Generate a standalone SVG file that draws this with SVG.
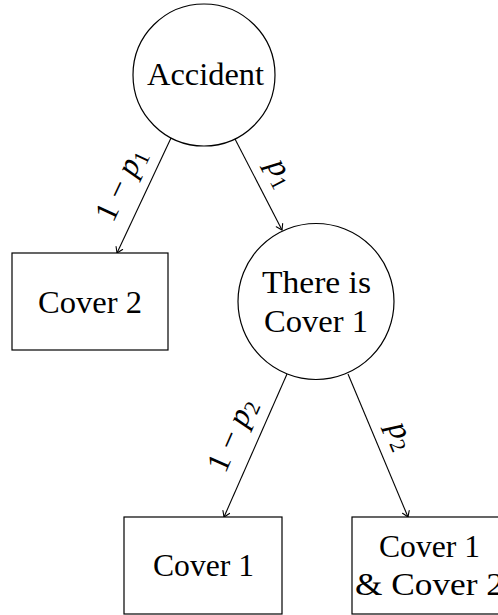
<svg xmlns="http://www.w3.org/2000/svg" width="498" height="615" viewBox="0 0 498 615">
  <style>
    .shape { fill: #ffffff; stroke: #000000; stroke-width: 1.2; }
    text { font-family: 'Liberation Serif', 'Times New Roman', 'DejaVu Serif', serif; font-size: 32px; fill: #000000; text-anchor: middle; }
    .edge { fill: none; stroke: #000000; stroke-width: 1.1; marker-end: url(#tip); }
    .it { font-style: italic; }
    .sub { font-size: 22px; }
  </style>
  <defs>
    <marker id="tip" markerUnits="userSpaceOnUse" viewBox="-7 -5 9 10" refX="0" refY="0" markerWidth="9" markerHeight="10" orient="auto" overflow="visible">
      <path d="M -5.5,-3.6 Q -1.5,-1 0,0 Q -1.5,1 -5.5,3.6" fill="none" stroke="#000000" stroke-width="1.1" stroke-linecap="round"/>
    </marker>
  </defs>
  <rect width="498" height="615" fill="#ffffff"/>

  <!-- connectors -->
  <g id="edges">
    <path class="edge" d="M 171,138 L 117,253"/>
    <path class="edge" d="M 235,139 L 282,230"/>
    <path class="edge" d="M 287,374 L 224,517"/>
    <path class="edge" d="M 348,374 L 408,517"/>
    <text font-family="Liberation Serif, serif" transform="translate(129.5,188.7) rotate(-64.8)">1 − <tspan class="it">p</tspan><tspan class="sub" dy="5">1</tspan></text>
    <text font-family="Liberation Serif, serif" transform="translate(272.7,177.1) rotate(62.7)"><tspan class="it">p</tspan><tspan class="sub" dy="5">1</tspan></text>
    <text font-family="Liberation Serif, serif" transform="translate(240.9,439) rotate(-66.2)">1 − <tspan class="it">p</tspan><tspan class="sub" dy="5">2</tspan></text>
    <text font-family="Liberation Serif, serif" transform="translate(392.7,439.3) rotate(67.2)"><tspan class="it">p</tspan><tspan class="sub" dy="5">2</tspan></text>
  </g>

  <!-- nodes -->
  <g id="accident">
    <circle class="shape" cx="204" cy="75" r="71"/>
    <text font-family="Liberation Serif, serif" x="205.5" y="85" textLength="117" lengthAdjust="spacingAndGlyphs">Accident</text>
  </g>
  <g id="there-is-cover1">
    <circle class="shape" cx="316" cy="301.5" r="78"/>
    <text font-family="Liberation Serif, serif" x="316.5" y="293" textLength="109" lengthAdjust="spacingAndGlyphs">There is</text>
    <text font-family="Liberation Serif, serif" x="316" y="332" textLength="104" lengthAdjust="spacingAndGlyphs">Cover 1</text>
  </g>
  <g id="cover2">
    <rect class="shape" x="12" y="253" width="156" height="97"/>
    <text font-family="Liberation Serif, serif" x="90" y="313" textLength="104" lengthAdjust="spacingAndGlyphs">Cover 2</text>
  </g>
  <g id="cover1">
    <rect class="shape" x="124" y="517" width="158" height="97"/>
    <text font-family="Liberation Serif, serif" x="203.5" y="576" textLength="101" lengthAdjust="spacingAndGlyphs">Cover 1</text>
  </g>
  <g id="cover1-and-cover2">
    <rect class="shape" x="352" y="517" width="155" height="97"/>
    <text font-family="Liberation Serif, serif" x="429.5" y="557" textLength="101" lengthAdjust="spacingAndGlyphs">Cover 1</text>
    <text font-family="Liberation Serif, serif" x="429.5" y="595" textLength="149" lengthAdjust="spacingAndGlyphs">&amp; Cover 2</text>
  </g>
</svg>
